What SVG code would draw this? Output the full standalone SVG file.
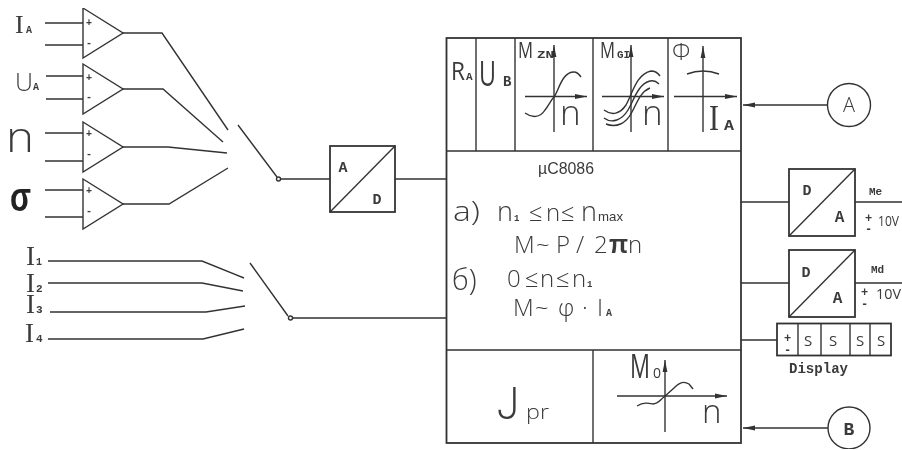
<svg xmlns="http://www.w3.org/2000/svg" width="902" height="450" viewBox="0 0 902 450">
<defs>
<marker id="ah" markerUnits="userSpaceOnUse" markerWidth="13" markerHeight="6" refX="12" refY="3" orient="auto"><path d="M0 0.6L12 3L0 5.4Z" style="fill:#333;stroke:none"/></marker>
<path id="amp" d="M0 -25L40 0L0 25Z"/>
<filter id="soft" x="0" y="0" width="1" height="1"><feGaussianBlur stdDeviation="0.4"/></filter>
</defs>
<style>
text{font-family:"Liberation Sans",Arial,sans-serif;fill:#3a3a3a}
.m{font-family:"Liberation Mono","DejaVu Sans Mono",monospace;font-weight:bold}
.s{font-family:"Liberation Serif","Times New Roman",serif}
.l{font-family:"Open Sans","Liberation Sans",sans-serif;font-weight:300}
.r{font-family:"Open Sans","Liberation Sans",sans-serif;font-weight:400}
.j{font-family:Roboto,"Liberation Sans",sans-serif;font-weight:300}
line,path,rect,circle{stroke:#333;fill:none;stroke-width:1.4}
.t{stroke-width:1.8}
</style>
<rect width="902" height="450" style="fill:#fff;stroke:none"/>
<g filter="url(#soft)">
<g id="connectors">
<path d="M45 23H83M45 45H83M46 76H83M46 99H83M45 133H83M45 161H83M45 190H83M45 217H83"/>
<path d="M123 33H162L228 130M123 89H163L223 142M123 147H168L227 153M123 204H169L228 168"/>
<path d="M238 125L277 177M280 179H330"/>
<path d="M48 261H202L244 278M48 283H202L243 291M50 312H206L245 306M48 339H203L244 329"/>
<path d="M250 263L288 316M292 318H446"/>
<path d="M395 179H446"/>
<path d="M741 202H789M741 283H789M741 340H777"/>
<path d="M855 202H902M855 283H902"/>
<path d="M828 105H743" marker-end="url(#ah)"/>
<path d="M828 428H743" marker-end="url(#ah)"/>
<circle cx="278.500" cy="179" r="2"/>
<circle cx="290.500" cy="318" r="2"/>
</g>
<g id="amp-ia"><use href="#amp" x="83" y="33"/><text x="86" y="26" font-size="10" class="m">+</text><text x="86" y="46" font-size="10" class="m">-</text></g>
<g id="amp-ua"><use href="#amp" x="83" y="89"/><text x="86" y="81" font-size="10" class="m">+</text><text x="86" y="100" font-size="10" class="m">-</text></g>
<g id="amp-n"><use href="#amp" x="83" y="147"/><text x="86" y="137" font-size="10" class="m">+</text><text x="86" y="157" font-size="10" class="m">-</text></g>
<g id="amp-s"><use href="#amp" x="83" y="204"/><text x="86" y="194" font-size="10" class="m">+</text><text x="86" y="214" font-size="10" class="m">-</text></g>
<g id="input-labels">
<text x="15" y="33" font-size="26" class="s">I</text><text x="26" y="33" font-size="10" class="m">A</text>
<text x="15" y="91" font-size="25" class="l">U</text><text x="33" y="90" font-size="10" class="m">A</text>
<text x="6" y="152" font-size="42" class="l" textLength="28" lengthAdjust="spacingAndGlyphs">n</text>
<text x="10" y="211" font-size="40" font-weight="bold" textLength="21" lengthAdjust="spacingAndGlyphs" style="fill:#222">σ</text>
<text x="26" y="265" font-size="27" class="s">I</text><text x="36" y="265" font-size="10" class="m">1</text>
<text x="26" y="292" font-size="27" class="s">I</text><text x="36" y="292" font-size="11" class="m">2</text>
<text x="26" y="313" font-size="27" class="s">I</text><text x="36" y="313" font-size="11" class="m">3</text>
<text x="25" y="342" font-size="27" class="s">I</text><text x="36" y="342" font-size="11" class="m">4</text>
</g>
<g id="adc"><rect x="330" y="146" width="65" height="66" class="t"/><path d="M330 212L395 146"/><text x="343" y="172" font-size="15" text-anchor="middle" class="m">A</text><text x="377" y="204" font-size="15" text-anchor="middle" class="m">D</text></g>
<g id="main">
<rect x="446.500" y="38" width="294.500" height="405" class="t"/>
<path d="M446 151H741M446 350H741M476 38V151M515 38V151M593 38V151M668 38V151M593 350V443"/>
</g>
<g id="cell-ra"><text x="451" y="80" font-size="25" class="r" textLength="14" lengthAdjust="spacingAndGlyphs">R</text><text x="466" y="80" font-size="11" class="m">A</text></g>
<g id="cell-ub"><text x="479" y="86" font-size="35" class="r" textLength="17" lengthAdjust="spacingAndGlyphs">U</text><text x="503" y="86" font-size="14" class="m">B</text></g>
<g id="cell-mzn"><text x="518" y="58" font-size="22" class="r" textLength="15" lengthAdjust="spacingAndGlyphs">M</text><text x="537" y="58" font-size="11" class="m" textLength="17" lengthAdjust="spacingAndGlyphs">ZN</text>
<path d="M554 132V45" marker-end="url(#ah)"/><path d="M525 96.500H587" marker-end="url(#ah)"/><path d="M525 113C532 118 540 118 545 110C549 105 551 100 554 97C559 90 562 72 574 72C577 72 579 74 581 77"/><text x="560" y="125" font-size="35" class="l">n</text></g>
<g id="cell-mgi"><text x="600" y="58" font-size="22" class="r" textLength="15" lengthAdjust="spacingAndGlyphs">M</text><text x="617" y="58" font-size="11" class="m" textLength="13" lengthAdjust="spacingAndGlyphs">GI</text>
<path d="M631 132V45" marker-end="url(#ah)"/><path d="M602 96.500H664" marker-end="url(#ah)"/><path d="M604 110C612 116 620 114 626 105C632 95 636 74 651 71C655 71 658 73 660 76M604 118C612 124 622 120 628 110C634 100 638 84 650 81C654 80 657 82 659 84M606 124C616 128 626 124 632 112C637 103 640 92 650 88"/><text x="642" y="125" font-size="35" class="l">n</text></g>
<g id="cell-phi"><text x="672" y="60" font-size="24" class="l">Φ</text>
<path d="M703 132V46" marker-end="url(#ah)"/><path d="M674 96.500H737" marker-end="url(#ah)"/><path d="M687 74Q703 68 719 74"/><text x="709" y="130" font-size="36" class="s" textLength="10" lengthAdjust="spacingAndGlyphs">I</text><text x="724" y="130" font-size="15" class="m" textLength="10" lengthAdjust="spacingAndGlyphs">A</text></g>
<g id="cpu">
<text x="538" y="174" font-size="16" textLength="56" lengthAdjust="spacingAndGlyphs">µC8086</text>
<text x="453" y="221" font-size="28" class="l" textLength="27" lengthAdjust="spacingAndGlyphs">a)</text>
<text y="221" font-size="27" class="l"><tspan x="497">n</tspan></text><text x="514" y="221" font-size="9" class="m">1</text>
<text y="221" font-size="24" class="l"><tspan x="529">≤</tspan><tspan x="546">n</tspan><tspan x="561">≤</tspan></text>
<text x="581" y="221" font-size="27" class="l">n</text><text x="598" y="221" font-size="13" textLength="25" lengthAdjust="spacingAndGlyphs">max</text>
<text y="253" font-size="24" class="l"><tspan x="514">M</tspan><tspan x="536">~</tspan><tspan x="556">P</tspan><tspan x="576">/</tspan><tspan x="594">2</tspan></text><text x="609" y="253" font-size="25" font-weight="bold">π</text><text x="628" y="253" font-size="24" class="l">n</text>
<text x="452" y="290" font-size="29" class="l">б)</text>
<text y="287" font-size="24" class="l"><tspan x="507">0</tspan><tspan x="525">≤</tspan><tspan x="540">n</tspan><tspan x="556">≤</tspan><tspan x="572">n</tspan></text><text x="587" y="287" font-size="9" class="m">1</text>
<text y="316" font-size="24" class="l"><tspan x="513">M</tspan><tspan x="535">~</tspan><tspan x="558">φ</tspan><tspan x="582">·</tspan><tspan x="597">I</tspan></text><text x="606" y="316" font-size="10" class="m">A</text>
</g>
<g id="cell-jpr"><text x="497" y="419" font-size="44" class="j" textLength="22" lengthAdjust="spacingAndGlyphs">J</text><text x="526" y="419" font-size="20" class="l" textLength="23" lengthAdjust="spacingAndGlyphs">pr</text></g>
<g id="cell-m0"><text x="630" y="378" font-size="33" class="r" textLength="20" lengthAdjust="spacingAndGlyphs">M</text><text x="653" y="378" font-size="14" class="r">0</text>
<path d="M665 432V360" marker-end="url(#ah)"/><path d="M617 396H727" marker-end="url(#ah)"/><path d="M637 406C644 402 648 403 653 404C658 404 660 400 664 397L674 388C680 382 684 381 689 384L693 389"/><text x="702" y="423" font-size="33" class="l">n</text></g>
<g id="circle-a"><circle cx="849" cy="105" r="21.500"/><text x="849" y="112" font-size="20" text-anchor="middle" class="l">A</text></g>
<g id="circle-b"><circle cx="849" cy="428" r="21"/><text x="849" y="435" font-size="18" text-anchor="middle" class="m">B</text></g>
<g id="dac1"><rect x="789" y="169" width="66" height="67" class="t"/><path d="M789 236L855 169"/><text x="807" y="195" font-size="15" text-anchor="middle" class="m">D</text><text x="839.500" y="222" font-size="16" text-anchor="middle" class="m">A</text><text x="869" y="195" font-size="11" class="m">Me</text><text x="865" y="222" font-size="12" class="m">+</text><text x="865" y="233" font-size="12" class="m">-</text><text x="878" y="226" font-size="14" class="r" textLength="21" lengthAdjust="spacingAndGlyphs">10V</text></g>
<g id="dac2"><rect x="789" y="250" width="66" height="67" class="t"/><path d="M789 317L855 250"/><text x="806" y="277" font-size="15" text-anchor="middle" class="m">D</text><text x="837.500" y="303" font-size="16" text-anchor="middle" class="m">A</text><text x="871" y="273" font-size="11" class="m">Md</text><text x="861" y="296" font-size="12" class="m">+</text><text x="861" y="308" font-size="12" class="m">-</text><text x="876" y="299" font-size="15" class="r" textLength="25" lengthAdjust="spacingAndGlyphs">10V</text></g>
<g id="display"><rect x="777" y="323.500" width="114" height="32" class="t"/><path d="M798 324V356M821 324V356M850 324V356M870 324V356"/><text x="784" y="342" font-size="12" class="m">+</text><text x="784" y="354" font-size="12" class="m">-</text><text x="804" y="346" font-size="15" class="r">S</text><text x="829" y="346" font-size="15" class="r">S</text><text x="856" y="346" font-size="15" class="r">S</text><text x="877" y="346" font-size="15" class="r">S</text>
<text x="789" y="373" font-size="15" class="m" textLength="59" lengthAdjust="spacingAndGlyphs">Display</text></g>
</g>
</svg>
